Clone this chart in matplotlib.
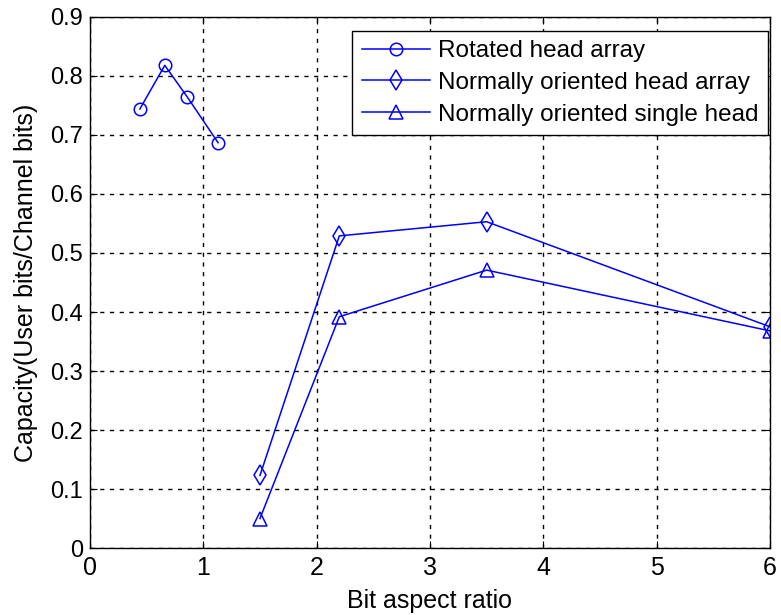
import matplotlib
matplotlib.use("Agg")
import matplotlib.pyplot as plt

plt.rcParams['font.family'] = ['Liberation Sans', 'DejaVu Sans']

# Capacity versus bit aspect ratio for three head configurations
rot_x = [0.44, 0.66, 0.86, 1.13]
rot_y = [0.744, 0.818, 0.764, 0.687]

arr_x = [1.5, 2.2, 3.5, 6.0]
arr_y = [0.123, 0.529, 0.553, 0.375]

single_x = [1.5, 2.2, 3.5, 6.0]
single_y = [0.050, 0.392, 0.471, 0.368]

labels = ['Rotated head array', 'Normally oriented head array',
          'Normally oriented single head']

fig = plt.figure(figsize=(7.81, 6.15), dpi=100)
ax = fig.add_axes([0.1152, 0.1089, 0.8707, 0.8635])

blue = (0, 0, 1)
common = dict(color=blue, lw=1.1, mfc='none', mec=blue, mew=1.1)
ax.plot(rot_x, rot_y, marker='o', ms=9, label=labels[0], **common)
ax.plot(arr_x, arr_y, marker='d', ms=10, label=labels[1], **common)
ax.plot(single_x, single_y, marker='^', ms=10, label=labels[2], **common)

ax.set_xlim(0, 6)
ax.set_ylim(0, 0.9)
ax.set_xticks(range(0, 7))
ax.set_yticks([i / 10 for i in range(10)])
ax.set_yticklabels(['0'] + [f'{i/10:.1f}' for i in range(1, 10)])

ax.grid(True, color='black', linestyle=(0, (3, 4)), linewidth=1.0)
ax.tick_params(direction='in', length=5, top=True, right=True)
ax.tick_params(axis='x', labelsize=18, pad=6)
ax.tick_params(axis='y', labelsize=17, pad=5)
for s in ax.spines.values():
    s.set_linewidth(1.0)

ax.set_xlabel('Bit aspect ratio', fontsize=18, labelpad=6)
ax.set_ylabel('Capacity(User bits/Channel bits)', fontsize=18, labelpad=9)

leg = ax.legend(loc='upper right', bbox_to_anchor=(0.997, 0.9736),
                fontsize=17.5, fancybox=False, edgecolor='black',
                framealpha=1, handlelength=2.8, borderaxespad=0,
                labelspacing=0.4, handletextpad=0.35, borderpad=0.38)
leg.get_frame().set_linewidth(1.0)

fig.savefig('out.png', dpi=100)
